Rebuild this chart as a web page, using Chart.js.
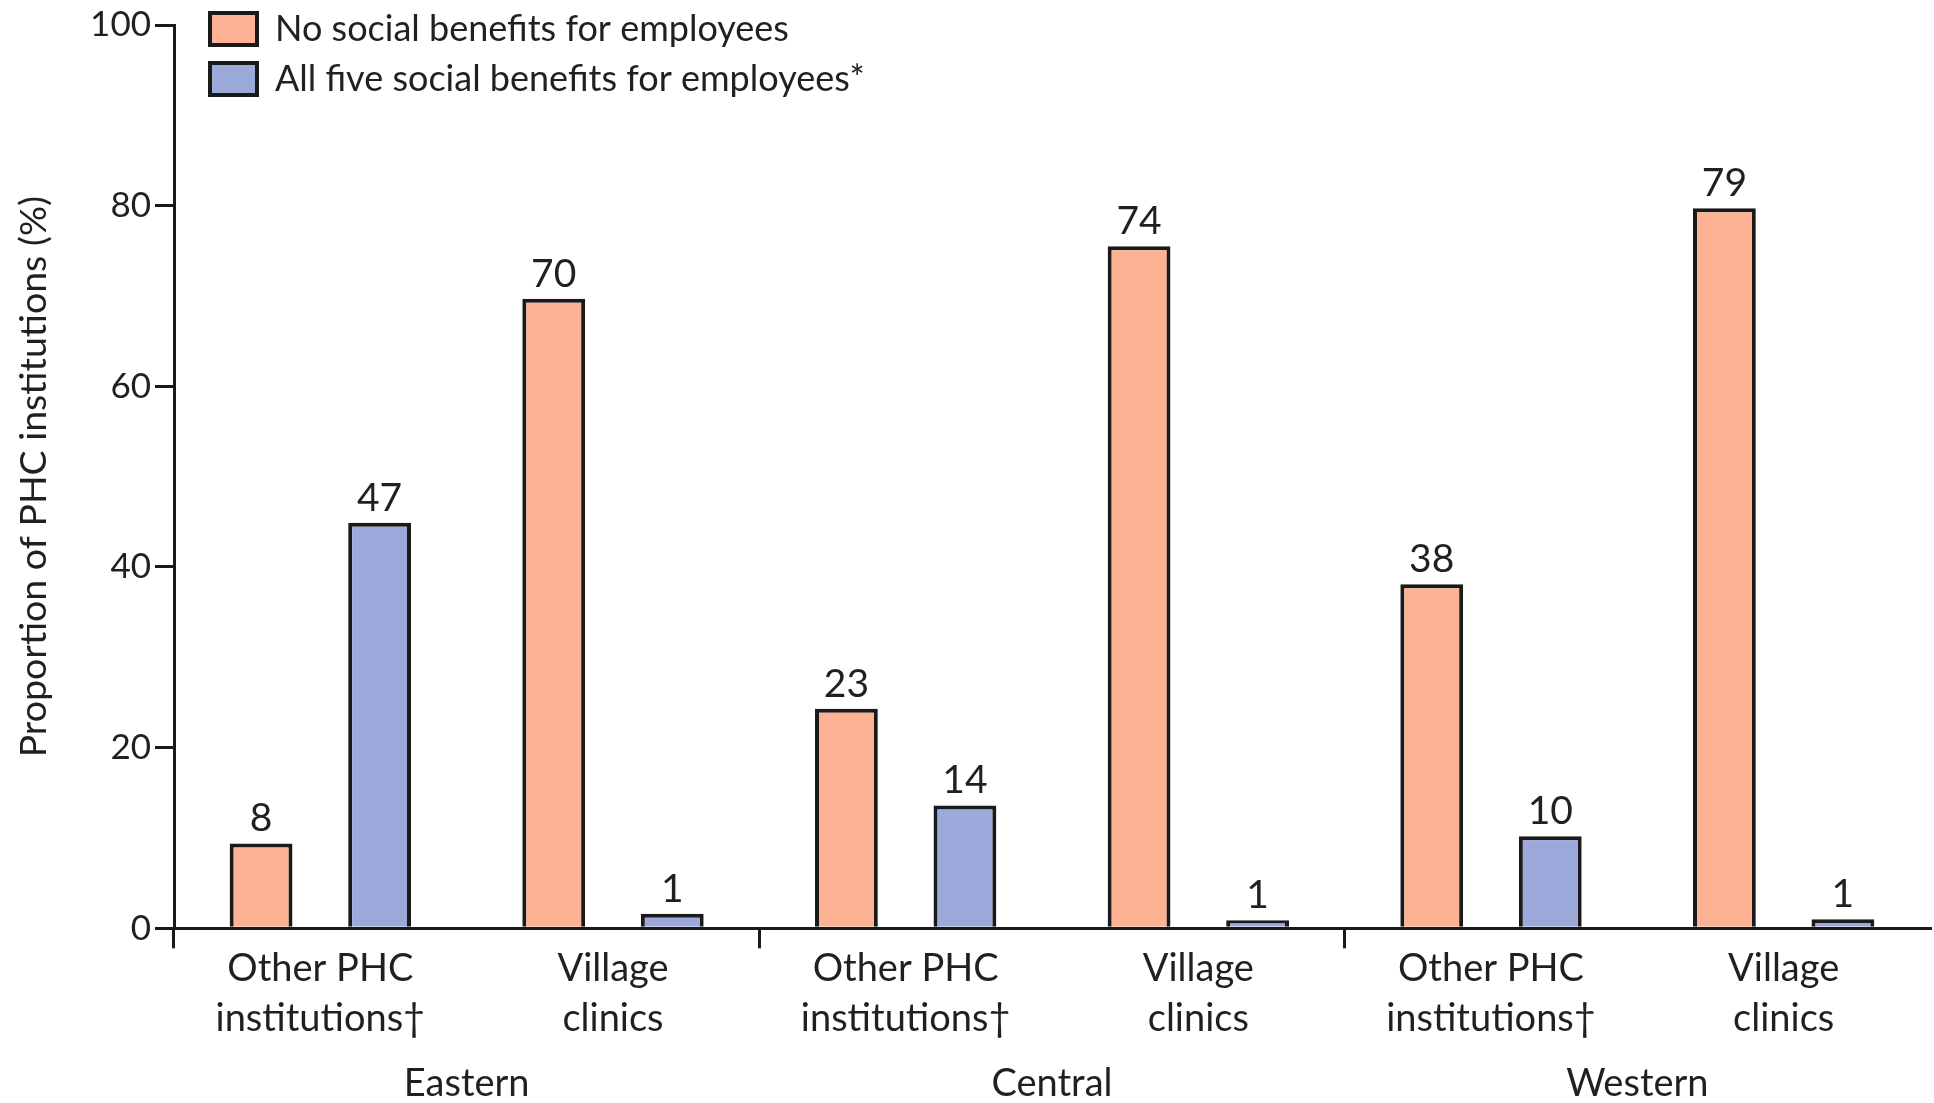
<!DOCTYPE html>
<html lang="en">
<head>
<meta charset="UTF-8">
<title>PHC social benefits</title>
<style>
body { margin: 0; background: #fff; }
#wrap { width: 1934px; height: 1103px; }
</style>
</head>
<body>
<div id="wrap">
  <canvas id="myChart"></canvas>
</div>
<script src="https://cdn.jsdelivr.net/npm/chart.js"></script>
<script>
// categories (two per region)
const categories = [
  ['Other PHC', 'institutions\u2020'], ['Village', 'clinics'],
  ['Other PHC', 'institutions\u2020'], ['Village', 'clinics'],
  ['Other PHC', 'institutions\u2020'], ['Village', 'clinics']
];
const regions = ['Eastern', 'Central', 'Western'];

// bar heights as drawn, and the numbers printed above them
const noBenefits = [9.4, 69.7, 24.3, 75.5, 38.1, 79.7];
const allFive = [44.9, 1.6, 13.6, 0.9, 10.2, 1.0];
const noBenefitsLabels = ['8', '70', '23', '74', '38', '79'];
const allFiveLabels = ['47', '1', '14', '1', '10', '1'];

const yTicks = [0, 20, 40, 60, 80, 100];

const ink = '#231f20';
const font = 'Lato';

// value labels above bars
const valueLabels = {
  id: 'valueLabels',
  afterDatasetsDraw(chart) {
    const c = chart.ctx;
    const texts = [noBenefitsLabels, allFiveLabels];
    c.save();
    c.fillStyle = ink;
    c.font = '39px ' + font;
    c.textAlign = 'center';
    c.textBaseline = 'alphabetic';
    chart.data.datasets.forEach(function(ds, i) {
      chart.getDatasetMeta(i).data.forEach(function(bar, j) {
        c.fillText(texts[i][j], bar.x, bar.y - 12);
      });
    });
    c.restore();
  }
};

// legend sits in the top-left corner, above the plot area
const moveLegend = {
  id: 'moveLegend',
  afterLayout(chart) {
    const lg = chart.legend;
    lg.top = -3;
    lg.left = 196;
  }
};

const ctx = document.getElementById('myChart');

let chart = new Chart(ctx, {
  type: 'bar',
  data: {
    labels: categories,
    datasets: [{
      label: 'No social benefits for employees',
      data: noBenefits,
      backgroundColor: '#fdb393',
      borderColor: '#1a1a1a',
      borderWidth: 4,
      xAxisID: 'x',
      categoryPercentage: 0.81,
      barPercentage: 0.53
    },
    {
      label: 'All five social benefits for employees*',
      data: allFive,
      backgroundColor: '#9da9da',
      borderColor: '#1a1a1a',
      borderWidth: 4,
      xAxisID: 'x',
      categoryPercentage: 0.81,
      barPercentage: 0.53
    }]
  },
  options: {
    responsive: true,
    maintainAspectRatio: false,
    animation: false,
    layout: { padding: { top: 10, right: 4, left: 0, bottom: 0 } },
    plugins: {
      tooltip: { enabled: false },
      legend: {
        position: 'chartArea',
        align: 'start',
        labels: {
          boxWidth: 47,
          boxHeight: 32,
          padding: 14,
          color: ink,
          font: { family: font, size: 36 }
        }
      }
    },
    scales: {
      x: {
        position: 'bottom',
        border: { display: true, color: '#1a1a1a', width: 3 },
        grid: {
          offset: true,
          drawOnChartArea: false,
          tickLength: 20,
          lineWidth: 3,
          color: function(c) { return c.index % 2 === 0 ? '#1a1a1a' : 'rgba(0,0,0,0)'; }
        },
        ticks: {
          color: ink,
          padding: -5,
          maxRotation: 0,
          font: { family: font, size: 38, lineHeight: 1.33 }
        }
      },
      x2: {
        type: 'category',
        labels: regions,
        position: 'bottom',
        offset: true,
        afterFit: function(s) { s.height = s.height - 18; },
        border: { display: false },
        grid: { display: false },
        ticks: {
          color: ink,
          padding: 14,
          font: { family: font, size: 38, lineHeight: 1.2 }
        }
      },
      y: {
        min: 0,
        max: 100,
        afterBuildTicks: function(s) { s.ticks = yTicks.map(function(v) { return { value: v }; }); },
        afterFit: function(s) { s.width = 174; },
        border: { display: true, color: '#1a1a1a', width: 3 },
        grid: {
          drawOnChartArea: false,
          tickLength: 19,
          lineWidth: 3,
          color: '#1a1a1a'
        },
        ticks: {
          color: ink,
          padding: 4,
          font: { family: font, size: 35 }
        },
        title: {
          display: true,
          text: 'Proportion of PHC institutions (%)',
          color: ink,
          padding: { top: 11, bottom: 0 },
          font: { family: font, size: 37.5 }
        }
      }
    }
  },
  plugins: [valueLabels, moveLegend]
});
</script>
</body>
</html>
